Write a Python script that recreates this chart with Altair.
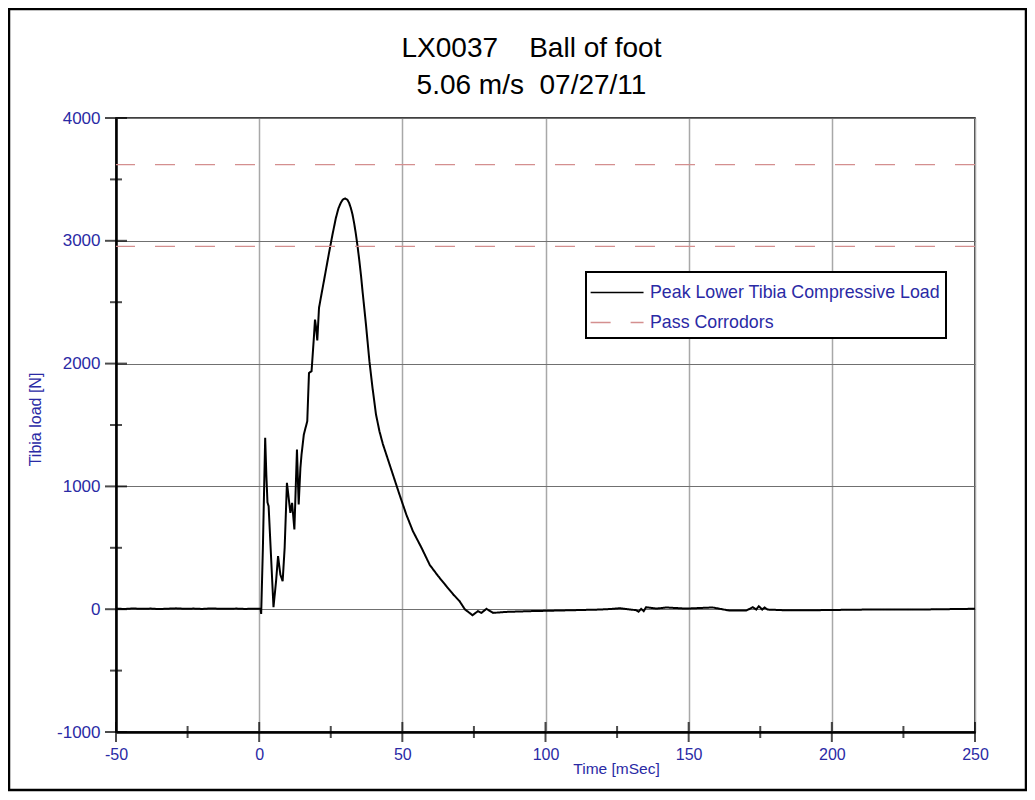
import altair as alt
import pandas as pd

BLUE = "#2a2aa5"
CORR = "#d48f8f"
FONT = "Liberation Sans"

title_lines = ["LX0037\u00a0\u00a0\u00a0\u00a0Ball of foot", "5.06 m/s\u00a0\u00a007/27/11"]
series_names = ["Peak Lower Tibia Compressive Load", "Pass Corrodors"]

time_ms = [-50, -47, -44, -41, -38, -35, -32, -29, -26, -23, -20, -17, -14, -11, -8, -5, -2, 0,
           0.5, 0.7, 1.3, 2.1, 2.5, 2.9, 3.3, 4.0, 5.0, 5.9, 6.6, 7.4, 8.2, 8.9, 9.7, 10.3, 10.9,
           11.5, 12.3, 13.2, 13.8, 14.4, 14.8, 15.6, 16.8, 17.4, 18.3, 19.1, 19.5, 19.9, 20.3,
           20.9, 21.8, 22.6, 24.4, 25.6, 26.8, 27.7, 28.5, 29.2, 30.0, 30.8, 31.4, 32.0, 32.6,
           33.2, 33.8, 34.4, 35.0, 35.6, 36.1, 36.7, 37.3, 38.5, 39.6, 40.8, 42.0, 43.2, 44.4,
           46.7, 49.0, 51.4, 53.7, 56.7, 59.6, 62.5, 65.4, 67.8, 70.0, 71.8, 72.9, 74.5, 76.4,
           77.6, 79.4, 81.7, 86.4, 94.5,
           106.2, 118.8, 123.6, 125.8, 131.6, 132.5, 133.4, 134.3, 135.1, 138.8, 142.1, 149.1,
           158.4, 164.2, 170.1, 172.4, 173.6, 174.5, 175.7, 176.5, 177.6, 182.9, 194.5, 212,
           229.5, 248.7, 250]
load_n = [4, 2, 6, 3, 5, 1, 4, 7, 3, 5, 2, 6, 4, 3, 5, 2, 4, 3,
          5, -38, 500, 1395, 1097, 870, 839, 500, 16, 228, 432, 282, 228, 500, 1029, 907, 784,
          866, 649, 1300, 852, 1150, 1260, 1423, 1531, 1924, 1938, 2209, 2359, 2290, 2188,
          2454, 2570, 2671, 2902, 3050, 3187, 3265, 3309, 3335, 3345, 3335, 3309, 3268, 3214,
          3140, 3051, 2950, 2834, 2710, 2590, 2454, 2318, 2020, 1800, 1586, 1450, 1345, 1260,
          1097, 934, 770, 635, 500, 360, 270, 187, 120, 65, 0, -20, -49, -16,
          -30, 3, -30, -22, -16,
          -10, -3, 3, 8, -8, -20, 3, -16, 16, 5, 14, 5,
          14, -11, -11, 16, -3, 24, -3, 14, -3, -8, -8, -3,
          -3, 3, 4]
corridor_n = [3620, 2955]

y_major = [-1000, 0, 1000, 2000, 3000, 4000]
y_minor = [-500, 500, 1500, 2500, 3500]
x_major = [-50, 0, 50, 100, 150, 200, 250]
x_minor = [-25, 25, 75, 125, 175, 225]

line_df = pd.DataFrame({"time": time_ms, "load": load_n, "series": series_names[0]})
corr_df = pd.DataFrame({"load": corridor_n, "series": series_names[1]})

W, H = 859, 614
xscale = alt.Scale(domain=[-50, 250], nice=False, zero=False)
yscale = alt.Scale(domain=[-1000, 4000], nice=False, zero=False)

xaxis = alt.Axis(values=x_major, labelExpr="'' + datum.value", title="Time [mSec]",
                 grid=True, ticks=False,
                 labelPadding=14, labelFontSize=16, labelColor=BLUE, labelFont=FONT,
                 labelFlush=False, labelOverlap=False,
                 titleFont=FONT, titleFontSize=15.5, titleColor=BLUE, titleFontWeight="normal",
                 titleX=500, titleY=36, titleBaseline="middle", titleAlign="center",
                 domainColor="black", domainWidth=2.5,
                 gridColor="#a8a8a8", gridWidth=1.5)
yaxis = alt.Axis(values=y_major, labelExpr="'' + datum.value", title="Tibia load [N]",
                 grid=True, ticks=False,
                 labelPadding=16, labelFontSize=17, labelColor=BLUE, labelFont=FONT,
                 labelFlush=False, labelOverlap=False,
                 titleFont=FONT, titleFontSize=16, titleColor=BLUE, titleFontWeight="normal",
                 titleX=-81, titleY=301, titleBaseline="middle", titleAlign="center",
                 titleAngle=270,
                 domainColor="black", domainWidth=2.5,
                 gridColor="#707070", gridWidth=1)

legend = alt.Legend(orient="none", legendX=470, legendY=154, title=None,
                    strokeColor="black", fillColor="white", padding=6,
                    symbolType="M-1.2,0H2.8", symbolSize=700, symbolStrokeWidth=1.6,
                    labelFontSize=17.8, labelColor=BLUE, labelFont=FONT, labelOffset=29,
                    labelLimit=400, rowPadding=6)
color = alt.Color("series:N", scale=alt.Scale(domain=series_names, range=["#000000", CORR]),
                  legend=legend)
dash = alt.StrokeDash("series:N",
                      scale=alt.Scale(domain=series_names, range=[[1, 0], [20, 20]]),
                      legend=legend)

line_layer = alt.Chart(line_df).mark_line(strokeWidth=2).encode(
    x=alt.X("time:Q", scale=xscale, axis=xaxis),
    y=alt.Y("load:Q", scale=yscale, axis=yaxis),
    color=color, strokeDash=dash, order="time:Q")

corr_layer = alt.Chart(corr_df).mark_rule(strokeWidth=1.2).encode(
    y=alt.Y("load:Q", scale=yscale, axis=yaxis),
    color=color, strokeDash=dash)

yt_major = alt.Chart(pd.DataFrame({"load": y_major})).mark_tick(
    orient="horizontal", size=22, thickness=2, color="black").encode(
    y=alt.Y("load:Q", scale=yscale, axis=yaxis), x=alt.value(0))
yt_minor = alt.Chart(pd.DataFrame({"load": y_minor})).mark_tick(
    orient="horizontal", size=12, thickness=2, color="black").encode(
    y=alt.Y("load:Q", scale=yscale, axis=yaxis), x=alt.value(0))
xt_major = alt.Chart(pd.DataFrame({"time": x_major})).mark_tick(
    orient="vertical", size=20, thickness=2, color="black").encode(
    x=alt.X("time:Q", scale=xscale, axis=xaxis), y=alt.value(H))
xt_minor = alt.Chart(pd.DataFrame({"time": x_minor})).mark_tick(
    orient="vertical", size=12, thickness=2, color="black").encode(
    x=alt.X("time:Q", scale=xscale, axis=xaxis), y=alt.value(H))

frame = alt.Chart(alt.Data(values=[{"k": 1}])).mark_rect(
    fill="white", fillOpacity=0, stroke="black", strokeWidth=2.5).encode(
    x=alt.value(-107), x2=alt.value(910), y=alt.value(-109), y2=alt.value(672))

chart = alt.layer(line_layer, corr_layer, yt_major, yt_minor, xt_major, xt_minor, frame).properties(
    width=W, height=H,
    padding={"left": 108, "top": 110, "right": 52, "bottom": 60},
    autosize=alt.AutoSizeParams(type="none"),
    background="white",
    title=alt.TitleParams(text=title_lines, fontSize=28, font=FONT, fontWeight="normal",
                          color="black", lineHeight=37, anchor="middle", dx=-14,
                          offset=0, dy=92),
).configure_view(stroke="black", strokeWidth=1.5).configure_legend(strokeWidth=2)

chart.save("out.html", embed_options={"renderer": "svg", "actions": False})
